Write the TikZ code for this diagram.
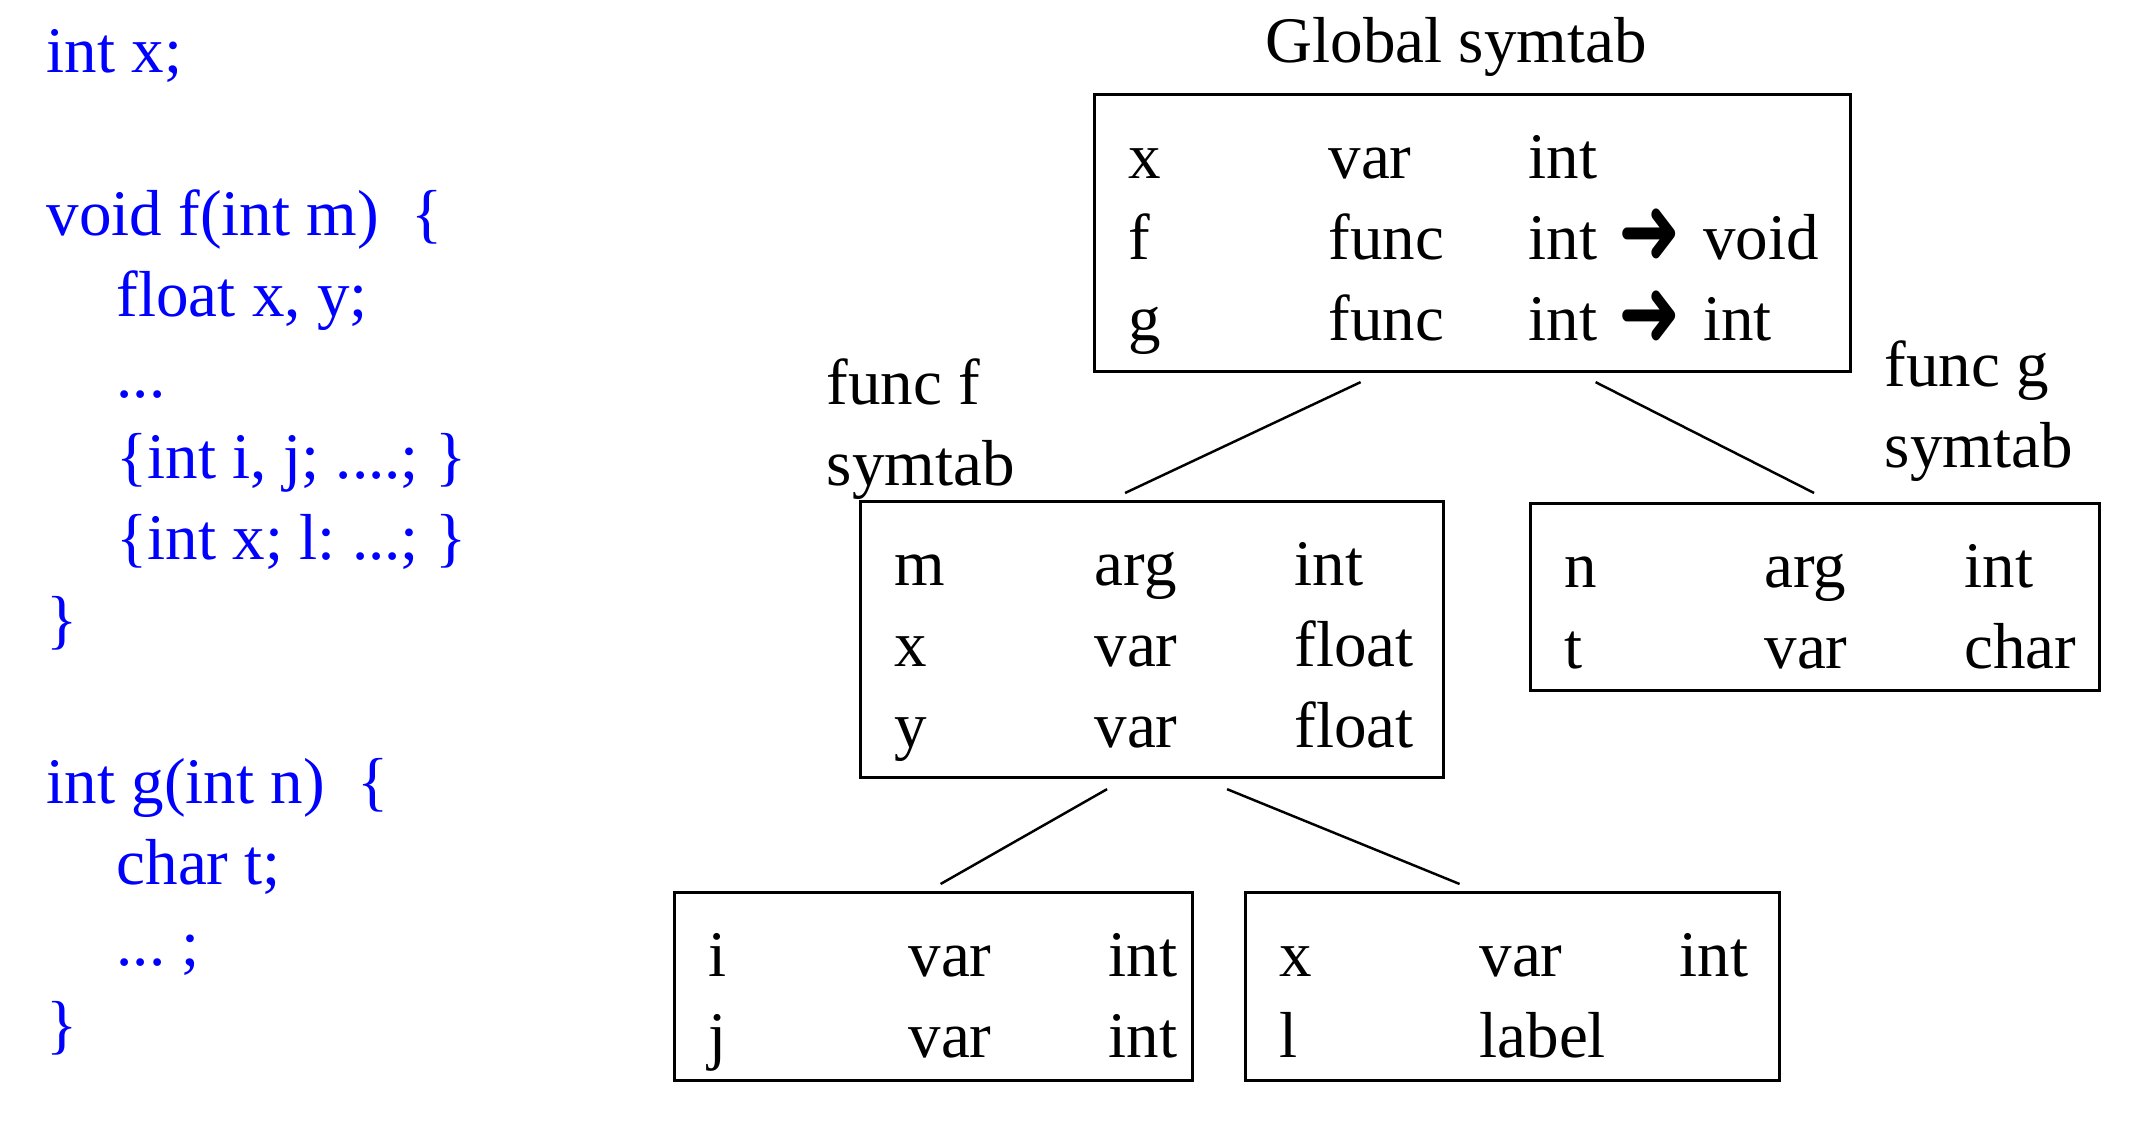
\documentclass[tikz,border=0pt]{standalone}
\usepackage{fontspec}
\usepackage{graphicx}
\setmainfont{Liberation Serif}
\newfontfamily\arrowfont{DejaVu Sans}
\newcommand{\toarrow}{{\arrowfont\raisebox{-0.08em}{\scalebox{1.15}[1.5]{➜}}}}
\newcommand{\symrows}[1]{\setlength{\tabcolsep}{0pt}\begin{tabular}[t]{@{}p{2cm}p{2cm}l@{}}#1\end{tabular}}
\frenchspacing

\begin{document}
\begin{tikzpicture}[
    txt/.style={font=\fontsize{18.5}{23.1}\selectfont, inner sep=0pt},
    symtab/.style={txt, draw, line width=0.9pt, inner xsep=0.34cm, inner ysep=0pt, anchor=north west, text height=0.84cm},
    link/.style={line width=0.7pt}
  ]
  \useasboundingbox (0,0) rectangle (21.38,-11.24);

  % source program
  \node[txt, text=blue, align=left, anchor=base west] (code) at (0.46,-10.47) {int x;\\[0.812cm]
    void f(int m)\ \ \{\\
    \hspace*{0.7cm}float x, y;\\
    \hspace*{0.7cm}...\\
    \hspace*{0.7cm}\{int i, j; ....; \}\\
    \hspace*{0.7cm}\{int x; l: ...; \}\\
    \}\\[0.812cm]
    int g(int n)\ \ \{\\
    \hspace*{0.7cm}char t;\\
    \hspace*{0.7cm}... ;\\
    \}};

  % symbol tables
  \node[symtab, text width=6.88cm, text depth=1.93cm] (glob) at (10.93,-0.93) {\symrows{x & var & int\\ f & func & int \toarrow{} void\\ g & func & int \toarrow{} int}};
  \node[symtab, text width=5.15cm, text depth=1.92cm] (ftab) at (8.59,-5.00) {\symrows{m & arg & int\\ x & var & float\\ y & var & float}};
  \node[symtab, text width=5.01cm, text depth=1.03cm] (gtab) at (15.29,-5.02) {\symrows{n & arg & int\\ t & var & char}};
  \node[symtab, text width=4.50cm, text depth=1.04cm] (itab) at (6.73,-8.91) {\symrows{i & var & int\\ j & var & int}};
  \node[symtab, text width=4.66cm, text depth=1.04cm] (xtab) at (12.44,-8.91) {\symrows{x & var & int\\ l & label & }};

  \node[txt, anchor=base west] (globlbl) at (12.65,-0.63) {Global symtab};
  \node[txt, align=left, anchor=base west] (flbl) at (8.26,-4.86) {func f\\symtab};
  \node[txt, align=left, anchor=base west] (glbl) at (18.84,-4.68) {func g\\symtab};

  \draw[link] ([shift={(-1.12,-0.09)}]glob.south) -- ([shift={(-0.27,0.07)}]ftab.north);
  \draw[link] ([shift={(1.23,-0.09)}]glob.south) -- ([shift={(-0.01,0.09)}]gtab.north);
  \draw[link] ([shift={(-0.45,-0.10)}]ftab.south) -- ([shift={(0.07,0.07)}]itab.north);
  \draw[link] ([shift={(0.75,-0.10)}]ftab.south) -- ([shift={(-0.53,0.07)}]xtab.north);
\end{tikzpicture}
\end{document}
